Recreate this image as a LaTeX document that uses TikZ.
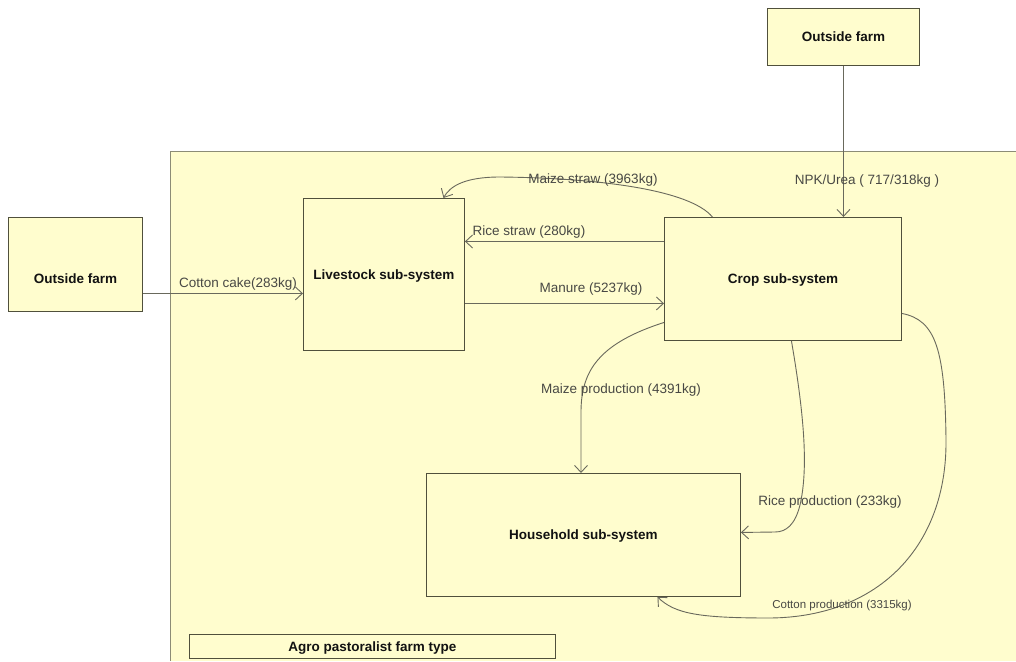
\documentclass[tikz,border=0pt]{standalone}
\usepackage{fontspec}
\setmainfont{Liberation Sans}
\usetikzlibrary{arrows.meta,calc}
\definecolor{boxfill}{RGB}{255,253,206}
\definecolor{boxline}{RGB}{80,80,60}
\definecolor{frameline}{RGB}{140,140,118}
\definecolor{flowline}{RGB}{105,105,92}
\definecolor{flowtext}{RGB}{72,72,68}
\definecolor{titletext}{RGB}{18,18,18}
\tikzset{
  sysbox/.style={draw=boxline, fill=boxfill, line width=0.9pt, inner sep=0pt,
    anchor=north west, text=titletext, text depth=0pt,
    font=\fontsize{13.5}{16}\selectfont\bfseries},
  flow/.style={draw=flowline, line width=0.9pt,
    -{Straight Barb[length=7pt,width=13pt,line width=0.9pt]}},
  flowlbl/.style={text=flowtext, inner sep=0pt,
    font=\fontsize{13.5}{16}\selectfont},
  smalllbl/.style={flowlbl, font=\fontsize{11.5}{14}\selectfont}
}
\begin{document}
\begin{tikzpicture}[x=1pt,y=-1pt]
  \useasboundingbox (0,0) rectangle (1016,661);
  \fill[white] (0,0) rectangle (1016,661);

  % farm boundary (open to the right and bottom)
  \fill[boxfill] (170,151) rectangle (1016,661);
  \draw[frameline, line width=0.9pt] (170,661) -- (170,151) -- (1016,151);

  % sub-systems and outside sources
  \node[sysbox, minimum width=134pt, minimum height=94pt,
        text height=38pt] (outleft) at (8,217) {Outside farm};
  \node[sysbox, minimum width=152pt, minimum height=57pt] (outtop) at (767,8) {Outside farm};
  \node[sysbox, minimum width=161pt, minimum height=152pt] (live) at (303,198) {Livestock sub-system};
  \node[sysbox, minimum width=237pt, minimum height=123pt] (crop) at (664,217) {Crop sub-system};
  \node[sysbox, minimum width=314pt, minimum height=123pt] (house) at (426,473) {Household sub-system};
  \node[sysbox, minimum width=366pt, minimum height=24pt] (farmtype) at (189,634) {Agro pastoralist farm type};

  % straight flows
  \draw[flow] ([yshift=-29pt]outleft.east) -- ([yshift=-29pt]outleft.east -| live.west);
  \draw[flow] (outtop.south) -- (outtop.south |- crop.north);
  \draw[flow] ([yshift=37.5pt]crop.west) -- ([yshift=37.5pt]crop.west -| live.east);
  \draw[flow] ([yshift=-29pt]live.east) -- ([yshift=-29pt]live.east -| crop.west);

  % curved flows
  \draw[flow] ([xshift=-70.5pt]crop.north)
      .. controls (690,190) and (600,178) .. (500,177)
      .. controls (465,177) and (450,186) .. ([xshift=59.5pt]live.north);
  \draw[flow] ([yshift=-43.5pt]crop.west)
      .. controls (600,343) and (581,370) .. (581,412)
      -- (house.north -| 581,0);
  \draw[flow] ([xshift=8.5pt]crop.south)
      .. controls (805,420) and (808,470) .. (800,505)
      .. controls (795,525) and (786,532) .. (775,532)
      -- ([yshift=2.5pt]house.east);
  \draw[flow] ([yshift=-34.5pt]crop.east)
      .. controls (936,320) and (945,350) .. (946,440)
      .. controls (947,545) and (880,617) .. (770,618)
      .. controls (700,618) and (675,614) .. ([xshift=74pt]house.south);

  % flow labels
  \node[flowlbl] (lcake)   at (238,284) {Cotton cake(283kg)};
  \node[flowlbl] (lnpk)    at (867,181) {NPK/Urea ( 717/318kg )};
  \node[flowlbl] (lmstraw) at (593,180) {Maize straw (3963kg)};
  \node[flowlbl] (lrstraw) at (529,232) {Rice straw (280kg)};
  \node[flowlbl] (lmanure) at (591,289) {Manure (5237kg)};
  \node[flowlbl] (lmaize)  at (621,390) {Maize production (4391kg)};
  \node[flowlbl] (lrice)   at (830,502) {Rice production (233kg)};
  \node[smalllbl] (lcotton) at (842,606) {Cotton production (3315kg)};
\end{tikzpicture}
\end{document}
